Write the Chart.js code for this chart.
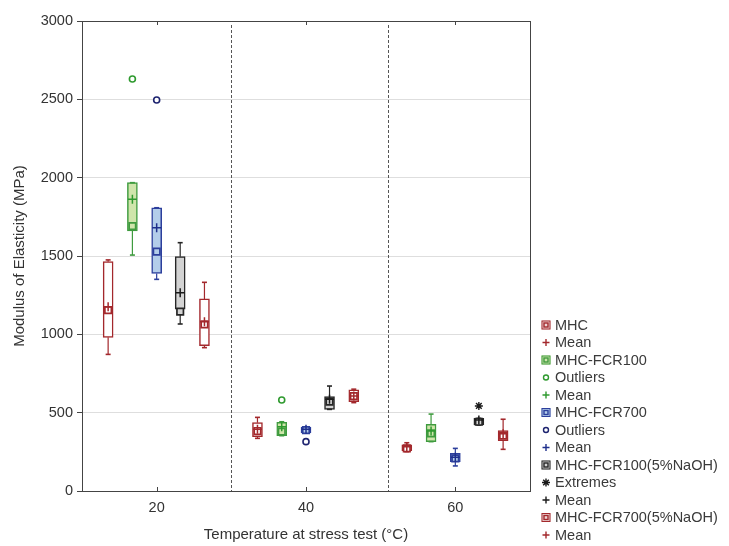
<!DOCTYPE html>
<html>
<head>
<meta charset="utf-8">
<script src="https://cdn.jsdelivr.net/npm/chart.js@4.4.0/dist/chart.umd.min.js"></script>
<style>
html, body { margin: 0; padding: 0; background: #fff; }
</style>
</head>
<body>
<canvas id="chart" width="729" height="546"></canvas>
<script>
// temperatures and axis ticks
let temps = [20, 40, 60];
let xTicks = [20, 40, 60];
let dividers = [30, 51];

let seriesNames = ["MHC", "MHC-FCR100", "MHC-FCR700", "MHC-FCR100(5%NaOH)", "MHC-FCR700(5%NaOH)"];

// box plot values (MPa), one entry per temperature
let mhcMin  = [872, 336, 251];
let mhcQ1   = [981, 347, 257];
let mhcMed  = [1155, 383, 272];
let mhcQ3   = [1464, 436, 294];
let mhcMax  = [1475, 470, 308];
let mhcMean = [1176, 394, 282];

let fcr100Min  = [1506, 353, 315];
let fcr100Q1   = [1660, 353, 315];
let fcr100Med  = [1691, 379, 368];
let fcr100Q3   = [1968, 438, 425];
let fcr100Max  = [1968, 442, 491];
let fcr100Mean = [1862, 410, 383];
let fcr100Outliers = [{temp: 20, value: 2630}, {temp: 40, value: 581}];

let fcr700Min  = [1351, 372, 160];
let fcr700Q1   = [1389, 372, 187];
let fcr700Med  = [1528, 389, 208];
let fcr700Q3   = [1808, 407, 240];
let fcr700Max  = [1808, 407, 272];
let fcr700Mean = [1681, 394, 215];
let fcr700Outliers = [{temp: 20, value: 2496}, {temp: 40, value: 315}];

let naoh100Min  = [1066, 521, 421];
let naoh100Q1   = [1160, 521, 421];
let naoh100Med  = [1145, 570, 442];
let naoh100Q3   = [1496, 602, 464];
let naoh100Max  = [1585, 670, 464];
let naoh100Mean = [1266, 585, 453];
let naoh100Extremes = [{temp: 60, value: 543}];

let naoh700Min  = [915, 564, 266];
let naoh700Q1   = [928, 570, 321];
let naoh700Med  = [1064, 606, 353];
let naoh700Q3   = [1226, 645, 385];
let naoh700Max  = [1332, 650, 458];
let naoh700Mean = [1081, 606, 366];

let series = [
    {min: mhcMin, q1: mhcQ1, med: mhcMed, q3: mhcQ3, max: mhcMax, mean: mhcMean, out: [], ext: []},
    {min: fcr100Min, q1: fcr100Q1, med: fcr100Med, q3: fcr100Q3, max: fcr100Max, mean: fcr100Mean, out: fcr100Outliers, ext: []},
    {min: fcr700Min, q1: fcr700Q1, med: fcr700Med, q3: fcr700Q3, max: fcr700Max, mean: fcr700Mean, out: fcr700Outliers, ext: []},
    {min: naoh100Min, q1: naoh100Q1, med: naoh100Med, q3: naoh100Q3, max: naoh100Max, mean: naoh100Mean, out: [], ext: naoh100Extremes},
    {min: naoh700Min, q1: naoh700Q1, med: naoh700Med, q3: naoh700Q3, max: naoh700Max, mean: naoh700Mean, out: [], ext: []}
];

// styles
let offsets = [-6.5, -3.25, 0, 3.15, 6.4];
let edge = ["#a3282c", "#3f9b3f", "#2c3f9c", "#262626", "#a3282c"];
let fill = ["#ffffff", "#cfe5ab", "#b3cdea", "#d3d3d3", "#ffffff"];
let legendFill = ["#ecd6d6", "#cfe5ab", "#b3cdea", "#d3d3d3", "#ecd6d6"];
let meanColor = ["#a3282c", "#2f9a2f", "#1e2f8c", "#1a1a1a", "#a3282c"];
let outColor = ["#a3282c", "#2f9a2f", "#1e2470", "#1a1a1a", "#a3282c"];

let legendItems = [
    {label: "MHC", kind: "box", s: 0},
    {label: "Mean", kind: "mean", s: 0},
    {label: "MHC-FCR100", kind: "box", s: 1},
    {label: "Outliers", kind: "outlier", s: 1},
    {label: "Mean", kind: "mean", s: 1},
    {label: "MHC-FCR700", kind: "box", s: 2},
    {label: "Outliers", kind: "outlier", s: 2},
    {label: "Mean", kind: "mean", s: 2},
    {label: "MHC-FCR100(5%NaOH)", kind: "box", s: 3},
    {label: "Extremes", kind: "extreme", s: 3},
    {label: "Mean", kind: "mean", s: 3},
    {label: "MHC-FCR700(5%NaOH)", kind: "box", s: 4},
    {label: "Mean", kind: "mean", s: 4}
];

let datasets = [];

series.forEach(function (s, k) {
    let xs = temps.map(t => t + offsets[k]);

    // box
    datasets.push({
        type: "bar",
        data: xs.map((x, i) => ({x: x, y: [s.q1[i], s.q3[i]]})),
        backgroundColor: fill[k],
        borderColor: edge[k],
        borderWidth: 1.5,
        borderSkipped: false,
        barThickness: 10,
        grouped: false,
        order: 3
    });

    // whiskers
    let w = [];
    xs.forEach(function (x, i) {
        w.push({x: x, y: s.min[i]}, {x: x, y: s.q1[i]}, {x: x, y: null});
        w.push({x: x, y: s.q3[i]}, {x: x, y: s.max[i]}, {x: x, y: null});
    });
    datasets.push({
        type: "scatter",
        data: w,
        showLine: true,
        spanGaps: false,
        borderColor: edge[k],
        borderWidth: 1.2,
        pointRadius: 0,
        order: 2
    });

    // whisker caps
    datasets.push({
        type: "scatter",
        data: xs.flatMap((x, i) => [{x: x, y: s.min[i]}, {x: x, y: s.max[i]}]),
        pointStyle: "line",
        pointRadius: 2.5,
        borderColor: edge[k],
        borderWidth: 1.6,
        order: 2
    });

    // median
    datasets.push({
        type: "scatter",
        data: xs.map((x, i) => ({x: x, y: s.med[i]})),
        pointStyle: "rect",
        pointRadius: 4.6,
        backgroundColor: fill[k],
        borderColor: edge[k],
        borderWidth: 1.7,
        order: 1
    });

    // mean
    datasets.push({
        type: "scatter",
        data: xs.map((x, i) => ({x: x, y: s.mean[i]})),
        pointStyle: "cross",
        pointRadius: 4.5,
        borderColor: meanColor[k],
        borderWidth: 1.5,
        order: 0
    });

    if (s.out.length) {
        datasets.push({
            type: "scatter",
            data: s.out.map(o => ({x: o.temp + offsets[k], y: o.value})),
            pointStyle: "circle",
            pointRadius: 3,
            backgroundColor: "#ffffff",
            borderColor: outColor[k],
            borderWidth: 1.6,
            order: 0
        });
    }
    if (s.ext.length) {
        datasets.push({
            type: "scatter",
            data: s.ext.map(o => ({x: o.temp + offsets[k], y: o.value})),
            pointStyle: "star",
            pointRadius: 4,
            borderColor: outColor[k],
            borderWidth: 1.4,
            order: 0
        });
    }
});

function drawMarker(ctx, kind, k, x, y) {
    ctx.save();
    ctx.lineWidth = 1.4;
    if (kind === "box") {
        ctx.fillStyle = legendFill[k];
        ctx.fillRect(x - 4.5, y - 4.5, 9, 9);
        ctx.strokeStyle = edge[k];
        ctx.lineWidth = 1;
        ctx.strokeRect(x - 4, y - 4, 8, 8);
        ctx.lineWidth = 1.4;
        ctx.strokeRect(x - 2, y - 2, 4, 4);
    } else if (kind === "mean") {
        ctx.strokeStyle = meanColor[k];
        ctx.beginPath();
        ctx.moveTo(x - 3.5, y); ctx.lineTo(x + 3.5, y);
        ctx.moveTo(x, y - 3.5); ctx.lineTo(x, y + 3.5);
        ctx.stroke();
    } else if (kind === "outlier") {
        ctx.strokeStyle = outColor[k];
        ctx.beginPath();
        ctx.arc(x, y, 2.5, 0, Math.PI * 2);
        ctx.stroke();
    } else if (kind === "extreme") {
        ctx.strokeStyle = outColor[k];
        ctx.beginPath();
        for (let a = 0; a < 4; a++) {
            let ang = a * Math.PI / 4;
            ctx.moveTo(x - 4 * Math.cos(ang), y - 4 * Math.sin(ang));
            ctx.lineTo(x + 4 * Math.cos(ang), y + 4 * Math.sin(ang));
        }
        ctx.stroke();
    }
    ctx.restore();
}

let framePlugin = {
    id: "frame",
    beforeDatasetsDraw(chart) {
        let ctx = chart.ctx;
        let a = chart.chartArea;
        let x = chart.scales.x;
        ctx.save();
        ctx.strokeStyle = "#555";
        ctx.lineWidth = 1;
        ctx.setLineDash([3, 2]);
        dividers.forEach(function (v) {
            let px = Math.round(x.getPixelForValue(v)) + 0.5;
            ctx.beginPath();
            ctx.moveTo(px, a.top + 4);
            ctx.lineTo(px, a.bottom);
            ctx.stroke();
        });
        ctx.restore();
    },
    afterDraw(chart) {
        let ctx = chart.ctx;
        let a = chart.chartArea;
        let x = chart.scales.x;
        ctx.save();
        ctx.strokeStyle = "#444";
        ctx.lineWidth = 1;
        ctx.strokeRect(Math.round(a.left) + 0.5, Math.round(a.top) + 0.5, Math.round(a.right - a.left), Math.round(a.bottom - a.top));
        ctx.beginPath();
        xTicks.forEach(function (v) {
            let px = Math.round(x.getPixelForValue(v)) + 0.5;
            ctx.moveTo(px, a.top); ctx.lineTo(px, a.top + 4);
            ctx.moveTo(px, a.bottom); ctx.lineTo(px, a.bottom - 4);
        });
        ctx.stroke();

        // legend
        ctx.font = "14.5px 'Liberation Sans', Arial, sans-serif";
        ctx.fillStyle = "#3a3a3a";
        ctx.textBaseline = "middle";
        legendItems.forEach(function (item, i) {
            let y = 325 + i * 17.5;
            drawMarker(ctx, item.kind, item.s, 546, y);
            ctx.fillText(item.label, 555, y + 0.5);
        });
        ctx.restore();
    }
};

Chart.defaults.font.family = "'Liberation Sans', Arial, sans-serif";
Chart.defaults.font.size = 14.5;
Chart.defaults.color = "#333";

let chart = new Chart(document.getElementById("chart").getContext("2d"), {
    type: "scatter",
    data: {datasets: datasets},
    options: {
        responsive: false,
        animation: false,
        layout: {padding: {top: 21, right: 199, left: 0, bottom: 0}},
        plugins: {
            legend: {display: false},
            tooltip: {enabled: false}
        },
        scales: {
            x: {
                type: "linear",
                min: 10,
                max: 70,
                offset: false,
                afterBuildTicks(s) { s.ticks = xTicks.map(v => ({value: v})); },
                afterFit(s) { s.height = 55; },
                grid: {drawOnChartArea: false, drawTicks: false, offset: false},
                border: {color: "#444"},
                ticks: {padding: 8, color: "#333"},
                title: {display: true, text: "Temperature at stress test (°C)", padding: {top: 0, bottom: 2}, color: "#333", font: {size: 15}}
            },
            y: {
                min: 0,
                max: 3000,
                afterFit(s) { s.width = 82; },
                ticks: {stepSize: 500, padding: 4, color: "#333", callback: v => String(v)},
                grid: {color: "#dedede", tickColor: "#444", tickLength: 5},
                border: {color: "#444"},
                title: {display: true, text: "Modulus of Elasticity (MPa)", padding: {top: 11, bottom: 0}, color: "#333", font: {size: 15}}
            }
        }
    },
    plugins: [framePlugin]
});
</script>
</body>
</html>
